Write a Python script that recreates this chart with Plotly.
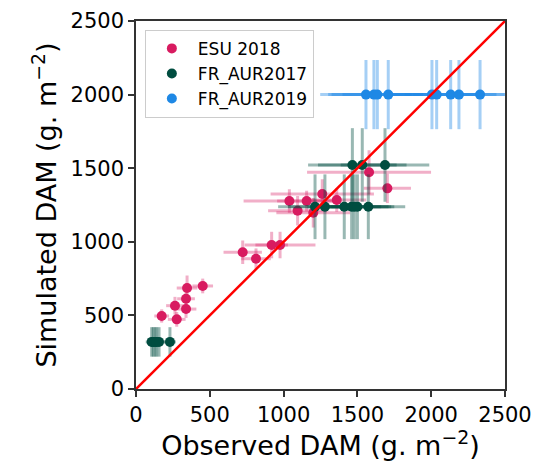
import plotly.graph_objects as go

# ESU 2018
esu_x = [174, 276, 264, 339, 339, 346, 452, 723, 813, 919, 976, 1039, 1095, 1156, 1201, 1262, 1360, 1579, 1703]
esu_y = [496, 473, 566, 543, 613, 686, 700, 929, 885, 978, 978, 1277, 1211, 1277, 1197, 1325, 1284, 1472, 1363]
esu_xerr = [50, 60, 60, 70, 60, 70, 70, 130, 100, 110, 240, 310, 200, 200, 250, 350, 200, 420, 160]
esu_yerr = [45, 50, 60, 60, 60, 85, 50, 80, 70, 90, 90, 80, 100, 70, 100, 100, 80, 150, 100]

# FR_AUR2017
aur17_x = [106, 117, 129, 140, 156, 230, 1213, 1280, 1411, 1461, 1479, 1500, 1574, 1466, 1533, 1687]
aur17_y = [320, 320, 320, 320, 320, 320, 1238, 1238, 1238, 1238, 1238, 1238, 1238, 1522, 1522, 1522]
aur17_xerr = [40, 40, 40, 40, 40, 40, 250, 250, 250, 250, 250, 250, 250, 300, 300, 300]
aur17_yerr = [100, 100, 100, 100, 100, 100, 220, 220, 220, 220, 220, 220, 220, 250, 250, 250]

# FR_AUR2019
aur19_x = [1558, 1612, 1635, 1709, 2005, 2037, 2132, 2188, 2331]
aur19_y = [2000, 2000, 2000, 2000, 2000, 2000, 2000, 2000, 2000]
aur19_xerr = [310, 310, 310, 310, 310, 310, 310, 310, 310]
aur19_yerr = [235, 235, 235, 235, 235, 235, 235, 235, 235]

one_to_one = [0, 2500]
ticks = [0, 500, 1000, 1500, 2000, 2500]

FONT = "DejaVu Sans"

def series(name, x, y, xe, ye, color, ecolor):
    return go.Scatter(
        x=x, y=y, mode="markers", name=name,
        marker=dict(color=color, size=10, line=dict(width=0)),
        error_x=dict(type="data", array=xe, visible=True, color=ecolor, thickness=3, width=0),
        error_y=dict(type="data", array=ye, visible=True, color=ecolor, thickness=3, width=0),
    )

fig = go.Figure()
fig.add_trace(series("ESU 2018", esu_x, esu_y, esu_xerr, esu_yerr, "#D81B60", "rgba(216,27,96,0.35)"))
fig.add_trace(series("FR_AUR2017", aur17_x, aur17_y, aur17_xerr, aur17_yerr, "#004D40", "rgba(0,77,64,0.4)"))
fig.add_trace(series("FR_AUR2019", aur19_x, aur19_y, aur19_xerr, aur19_yerr, "#1E88E5", "rgba(30,136,229,0.4)"))
fig.add_trace(go.Scatter(x=one_to_one, y=one_to_one, mode="lines",
                         line=dict(color="#FF0000", width=2.5), showlegend=False, hoverinfo="skip"))

axis_common = dict(
    range=[0, 2500], tickvals=ticks, ticktext=[str(t) for t in ticks],
    showgrid=False, zeroline=False, showline=True, mirror=True, automargin=False,
    linecolor="#333333", linewidth=1.5, ticks="outside", ticklen=6, tickwidth=1.5,
    tickcolor="#333333", tickfont=dict(family=FONT, size=21, color="#000000"),
)

fig.update_layout(
    width=538, height=461,
    margin=dict(l=136, r=33, t=21, b=72, autoexpand=False),
    paper_bgcolor="white", plot_bgcolor="white",
    font=dict(family=FONT, color="#000000"),
    xaxis=dict(**axis_common,
               title=dict(text="Observed DAM (g. m<sup>−2</sup>)", font=dict(family=FONT, size=27), standoff=4)),
    yaxis=dict(**axis_common,
               title=dict(text="Simulated DAM (g. m<sup>−2</sup>)", font=dict(family=FONT, size=27), standoff=6)),
    legend=dict(x=0.024, y=0.976, xanchor="left", yanchor="top",
                bgcolor="rgba(255,255,255,0.8)", bordercolor="#CCCCCC", borderwidth=1,
                font=dict(family=FONT, size=17), itemwidth=42, tracegroupgap=0),
    showlegend=True,
)

fig.write_html("out.html")
